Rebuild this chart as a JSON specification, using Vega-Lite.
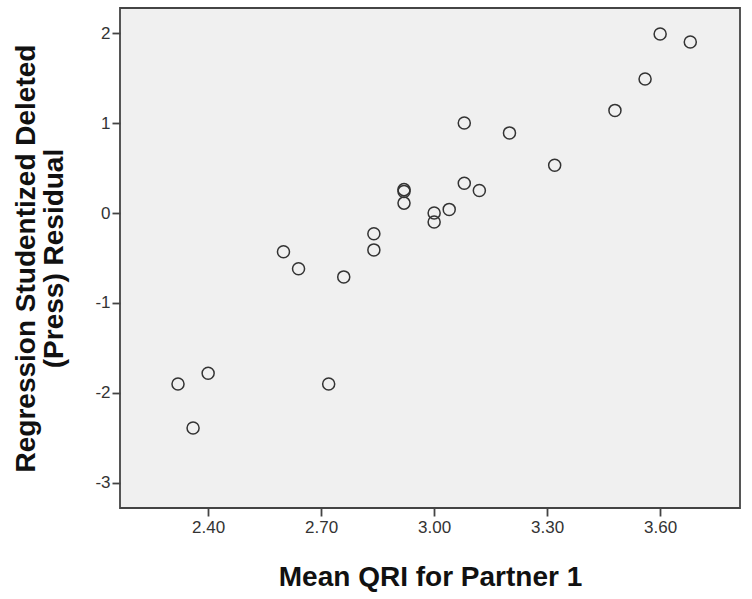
{
  "$schema": "https://vega.github.io/schema/vega-lite/v6.json",
  "width": 620,
  "height": 500,
  "autosize": {"type": "none"},
  "padding": {"left": 120, "top": 8, "right": 12, "bottom": 91},
  "background": "white",
  "config": {
    "view": {"fill": "#f0f0f0", "stroke": "#444444", "strokeWidth": 1.8},
    "font": "Liberation Sans",
    "axis": {
      "grid": false,
      "domain": false,
      "tickColor": "#444444",
      "tickSize": 8,
      "tickWidth": 1.8,
      "labelFont": "Liberation Sans",
      "labelFontSize": 17,
      "labelColor": "#333333",
      "titleFont": "Liberation Sans",
      "titleFontSize": 28,
      "titleFontWeight": "bold",
      "titleColor": "#111111",
      "titleLineHeight": 28
    }
  },
  "data": {
    "values": [
      {"qri": 2.32, "res": -1.90},
      {"qri": 2.40, "res": -1.78},
      {"qri": 2.36, "res": -2.39},
      {"qri": 2.60, "res": -0.43},
      {"qri": 2.64, "res": -0.62},
      {"qri": 2.72, "res": -1.90},
      {"qri": 2.76, "res": -0.71},
      {"qri": 2.84, "res": -0.23},
      {"qri": 2.84, "res": -0.41},
      {"qri": 2.92, "res": 0.26},
      {"qri": 2.92, "res": 0.24},
      {"qri": 2.92, "res": 0.11},
      {"qri": 3.00, "res": 0.00},
      {"qri": 3.00, "res": -0.10},
      {"qri": 3.04, "res": 0.04},
      {"qri": 3.08, "res": 1.00},
      {"qri": 3.08, "res": 0.33},
      {"qri": 3.12, "res": 0.25},
      {"qri": 3.20, "res": 0.89},
      {"qri": 3.32, "res": 0.53},
      {"qri": 3.48, "res": 1.14},
      {"qri": 3.56, "res": 1.49},
      {"qri": 3.60, "res": 1.99},
      {"qri": 3.68, "res": 1.90}
    ]
  },
  "mark": {"type": "point", "shape": "circle", "filled": false, "stroke": "#333333", "strokeWidth": 1.5, "size": 145, "opacity": 1},
  "encoding": {
    "x": {
      "field": "qri", "type": "quantitative",
      "scale": {"domain": [2.166, 3.812], "nice": false, "zero": false},
      "axis": {"values": [2.4, 2.7, 3.0, 3.3, 3.6], "format": ".2f", "labelPadding": 3, "title": "Mean QRI for Partner 1", "titlePadding": 28}
    },
    "y": {
      "field": "res", "type": "quantitative",
      "scale": {"domain": [-3.278, 2.278], "nice": false, "zero": false},
      "axis": {"values": [-3, -2, -1, 0, 1, 2], "labelExpr": "datum.value < 0 ? '-' + abs(datum.value) : '' + datum.value", "labelPadding": 2, "title": ["Regression Studentized Deleted", "(Press) Residual"], "titlePadding": 26}
    }
  }
}
